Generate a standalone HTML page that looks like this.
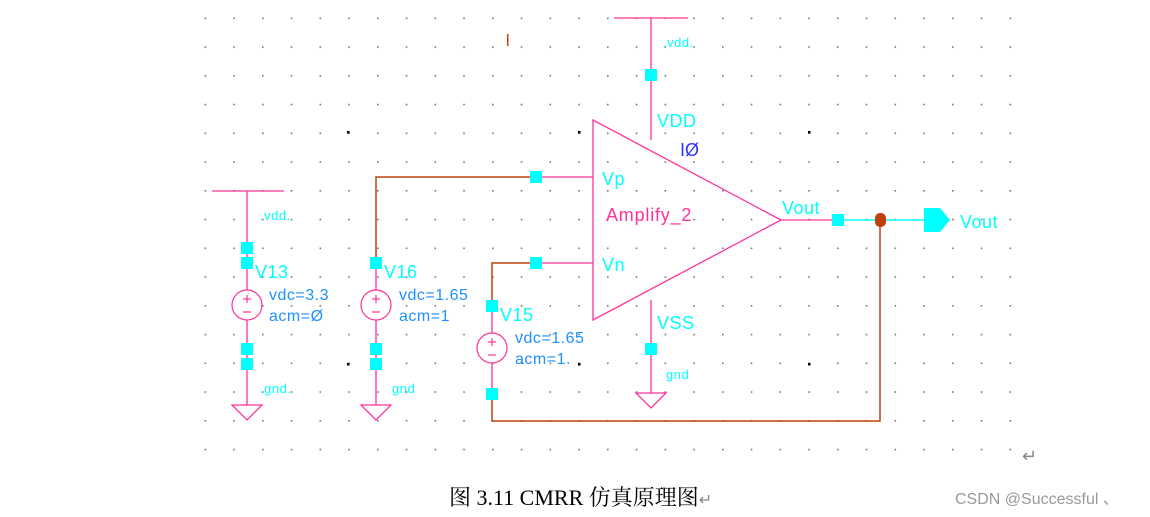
<!DOCTYPE html>
<html><head><meta charset="utf-8"><style>
body{margin:0;background:#fff;width:1150px;height:517px;overflow:hidden}
svg{position:absolute;left:0;top:0}
.c{fill:#00ffff}
.t{font-family:"Liberation Sans",sans-serif;fill:#00ffff;letter-spacing:0.5px}
.b{font-family:"Liberation Sans",sans-serif;fill:#1e90ff;letter-spacing:0.5px}
</style></head><body>
<svg width="1150" height="517" viewBox="0 0 1150 517">
<defs><pattern id="g" x="204.5" y="17.5" width="28.75" height="28.75" patternUnits="userSpaceOnUse"><rect width="1.6" height="1.6" fill="#777"/></pattern></defs>
<rect x="204" y="17" width="808" height="434" fill="url(#g)"/>
<g fill="#000"><rect x="347" y="131" width="2.5" height="2.5"/><rect x="347" y="363" width="2.5" height="2.5"/><rect x="578" y="131" width="2.5" height="2.5"/><rect x="808" y="131" width="2.5" height="2.5"/><rect x="808" y="363" width="2.5" height="2.5"/><rect x="578" y="363" width="2.5" height="2.5"/></g>
<g stroke="#ff3399" stroke-width="1.3" fill="none">
<polygon points="593,120 593,320 781,220"/>
<line x1="614" y1="18" x2="688" y2="18"/><line x1="651" y1="18" x2="651" y2="140"/>
<line x1="651" y1="300" x2="651" y2="393"/><polygon points="636,393 666,393 651,408"/>
<line x1="781" y1="220" x2="838" y2="220"/>
<line x1="212" y1="191" x2="284" y2="191"/><line x1="247" y1="191" x2="247" y2="405"/>
<polygon points="232,405 262,405 247,420" fill="#fff"/>
<line x1="376" y1="263" x2="376" y2="405"/><polygon points="361,405 391,405 376,420" fill="#fff"/>
<line x1="492" y1="306" x2="492" y2="394"/>
<line x1="536" y1="177" x2="593" y2="177"/><line x1="536" y1="263" x2="593" y2="263"/>
</g>
<g stroke="#ff3399" stroke-width="1.2" fill="#fff">
<circle cx="247" cy="305" r="15"/><circle cx="376" cy="305" r="15"/><circle cx="492" cy="348" r="15"/>
</g>
<g stroke="#ff3399" stroke-width="1.2">
<line x1="243" y1="299" x2="251" y2="299"/><line x1="247" y1="295" x2="247" y2="303"/><line x1="243" y1="312" x2="251" y2="312"/>
<line x1="372" y1="299" x2="380" y2="299"/><line x1="376" y1="295" x2="376" y2="303"/><line x1="372" y1="312" x2="380" y2="312"/>
<line x1="488" y1="342" x2="496" y2="342"/><line x1="492" y1="338" x2="492" y2="346"/><line x1="488" y1="355" x2="496" y2="355"/>
</g>
<g stroke="#c04010" stroke-width="1.5" fill="none">
<polyline points="376,263 376,177 536,177"/><polyline points="492,306 492,263 536,263"/>
<polyline points="880,220 880,421 492,421 492,394"/>
</g>
<line x1="838" y1="220" x2="924" y2="220" stroke="#00ffff" stroke-width="1.5"/>
<polygon class="c" points="924,208 940,208 950,220 940,232 924,232"/>
<rect x="875" y="213" width="11" height="14" rx="5" fill="#c04010"/>
<g class="c">
<rect x="645" y="69" width="12" height="12"/><rect x="645" y="343" width="12" height="12"/>
<rect x="832" y="214" width="12" height="12"/>
<rect x="530" y="171" width="12" height="12"/><rect x="530" y="257" width="12" height="12"/>
<rect x="241" y="242" width="12" height="12"/><rect x="241" y="257" width="12" height="12"/>
<rect x="241" y="343" width="12" height="12"/><rect x="241" y="358" width="12" height="12"/>
<rect x="370" y="257" width="12" height="12"/><rect x="370" y="343" width="12" height="12"/><rect x="370" y="358" width="12" height="12"/>
<rect x="486" y="300" width="12" height="12"/><rect x="486" y="388" width="12" height="12"/>
</g>
<rect x="507" y="34" width="1.5" height="12" fill="#c04010"/>
<g class="t" font-size="13">
<text x="663" y="47">.vdd.</text><text x="260" y="220">.vdd.</text>
<text x="260" y="393">.gnd.</text><text x="392" y="393">gnd</text><text x="666" y="379">gnd</text>
</g>
<g class="t" font-size="18">
<text x="657" y="127">VDD</text><text x="657" y="329">VSS</text>
<text x="602" y="185">Vp</text><text x="602" y="271">Vn</text>
<text x="782" y="214">Vout</text><text x="960" y="228">Vout</text>
<text x="255" y="278">V13</text><text x="384" y="278">V16</text><text x="500" y="321">V15</text>
</g>
<text x="680" y="156" font-family="Liberation Sans,sans-serif" font-size="18" fill="#3333ff">IØ</text>
<text x="606" y="221" font-family="Liberation Sans,sans-serif" font-size="18" fill="#ff3399" letter-spacing="0.8">Amplify_2</text>
<g class="b" font-size="16">
<text x="269" y="300">vdc=3.3</text><text x="269" y="321">acm=Ø</text>
<text x="399" y="300">vdc=1.65</text><text x="399" y="321">acm=1</text>
<text x="515" y="343">vdc=1.65</text><text x="515" y="364">acm=1.</text>
</g>
<text x="1022" y="462" font-family="Liberation Sans,sans-serif" font-size="18" fill="#888">↵</text>
<text x="449" y="505" font-family="Liberation Serif,'Noto Serif CJK SC',serif" font-size="22" fill="#000">图 3.11 CMRR 仿真原理图<tspan fill="#888" font-size="16">↵</tspan></text>
<text x="955" y="504" font-family="Liberation Sans,sans-serif" font-size="16" fill="#999">CSDN @Successful 、</text>
</svg>
</body></html>
